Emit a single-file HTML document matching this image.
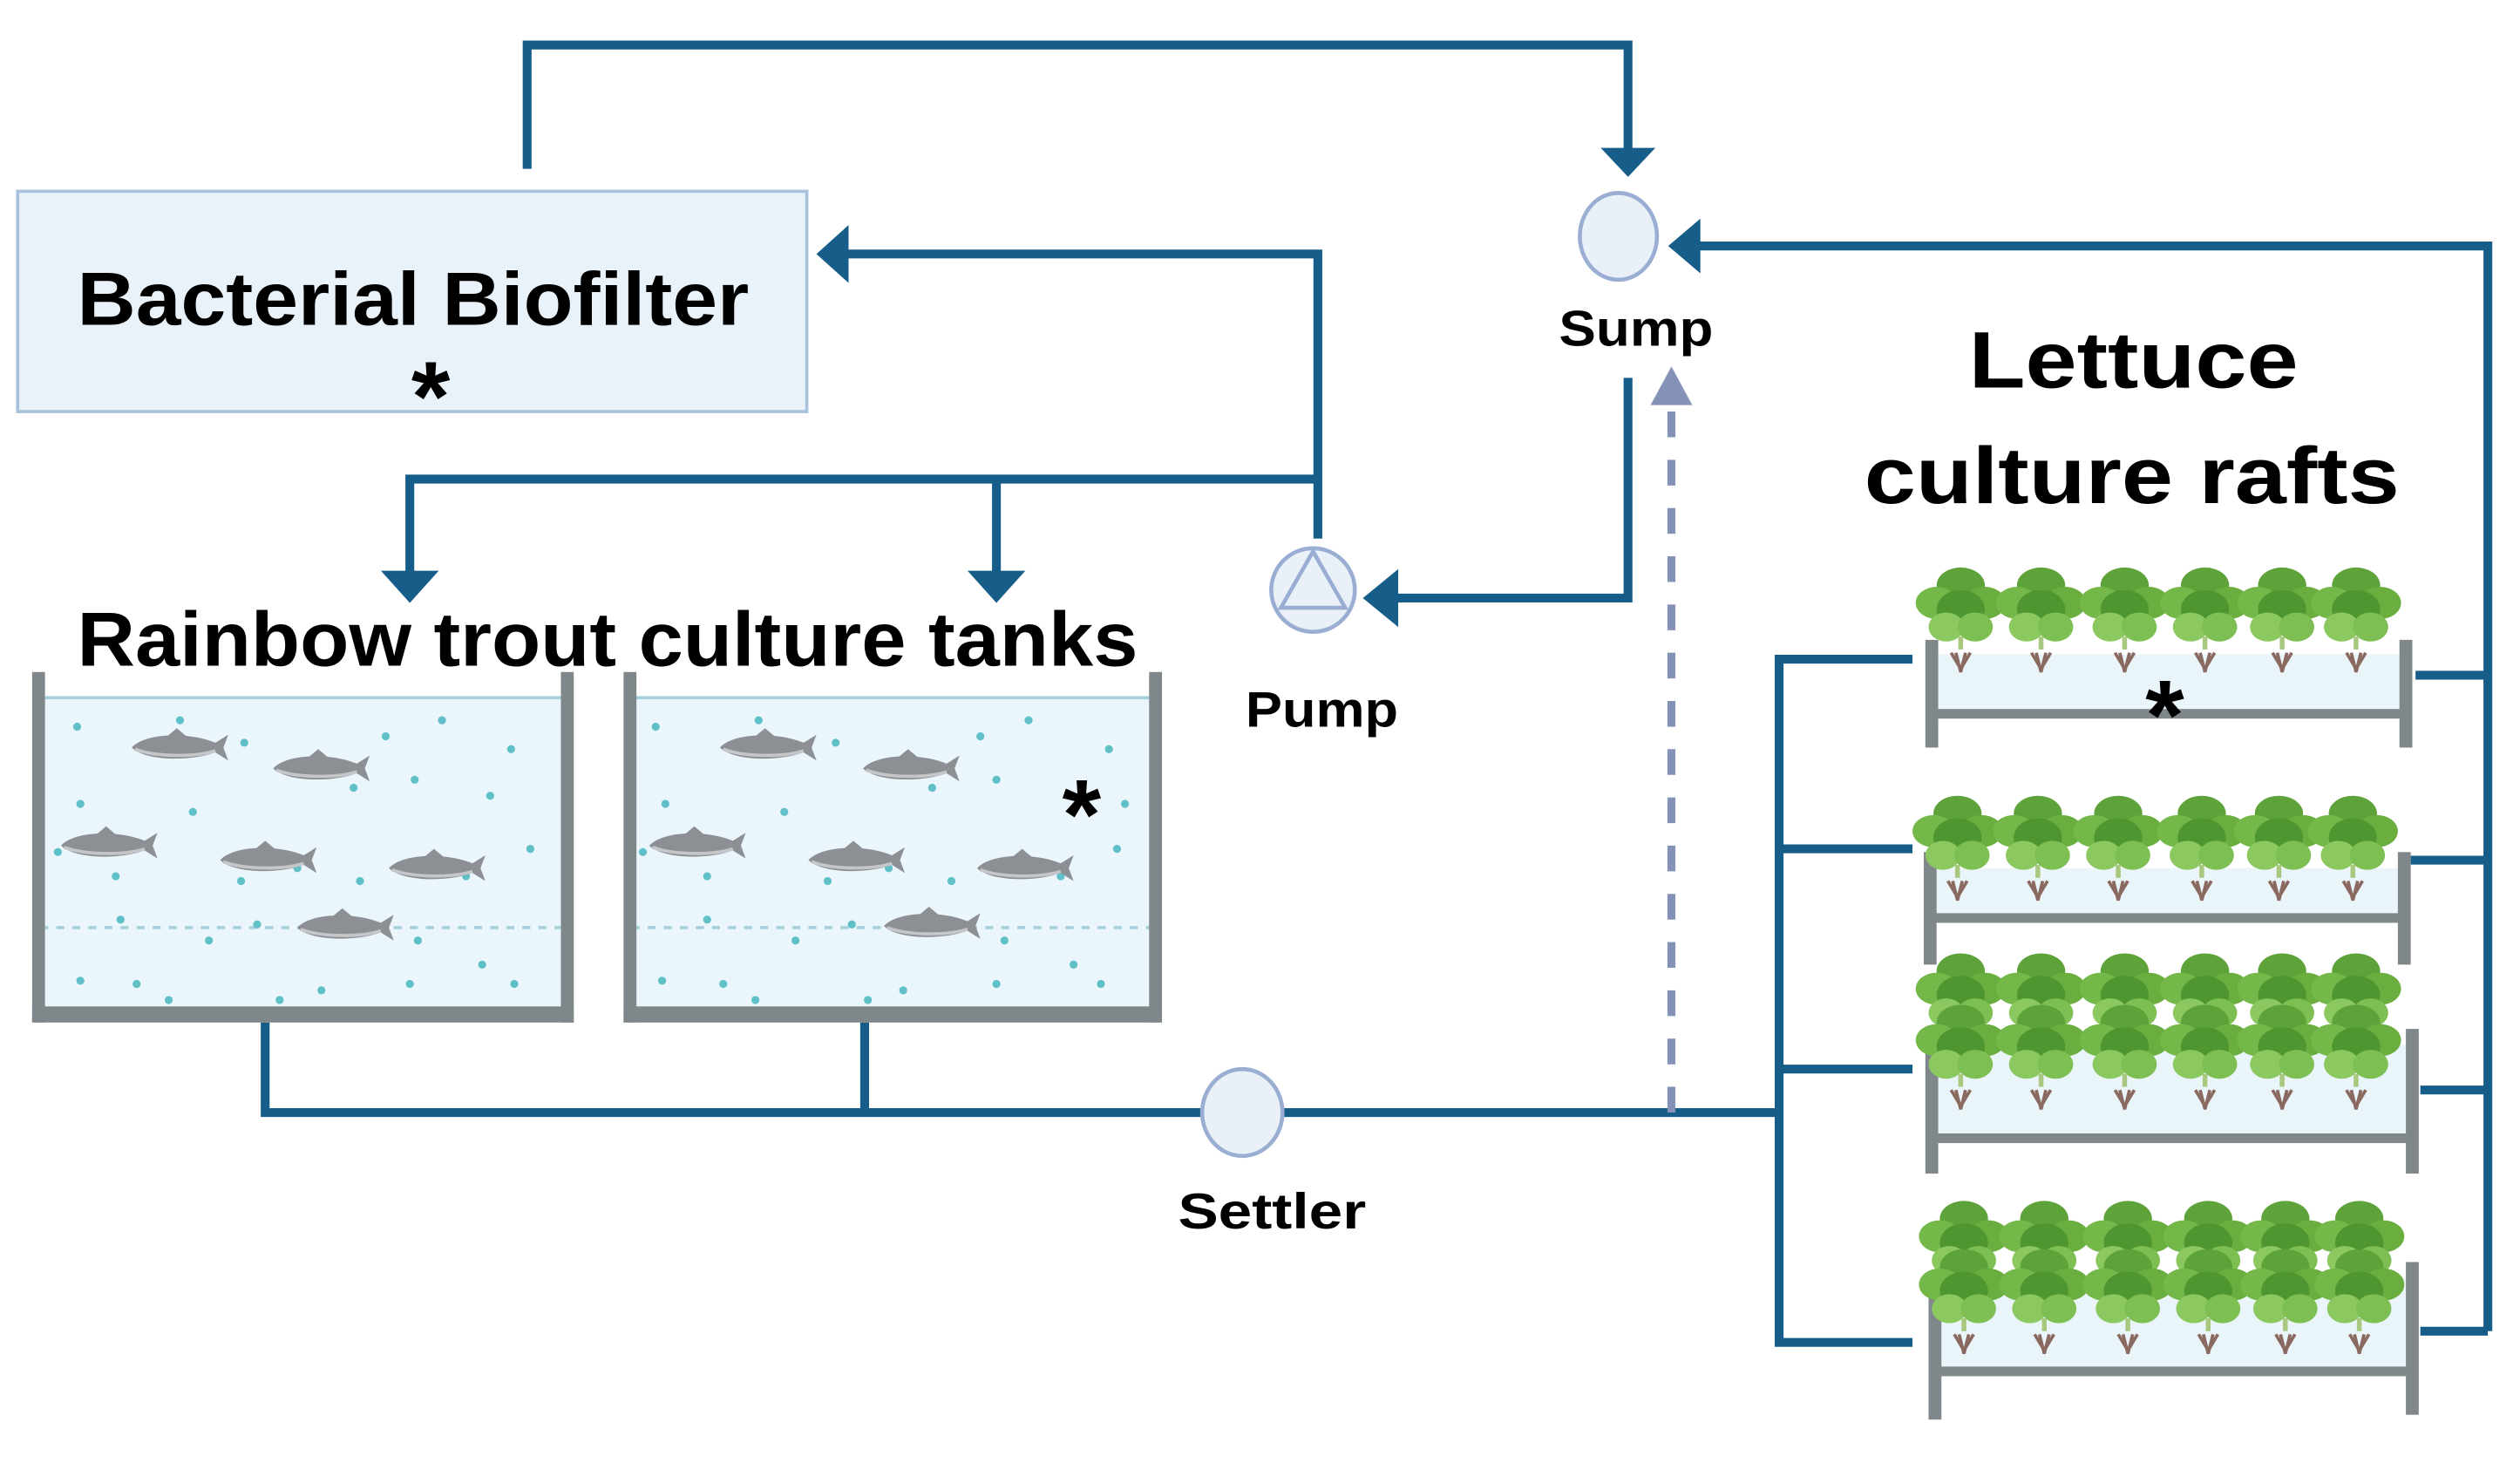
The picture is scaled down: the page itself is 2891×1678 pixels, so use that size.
<!DOCTYPE html>
<html><head><meta charset="utf-8"><style>
html,body{margin:0;padding:0;background:#fff;}
svg{display:block;}
text{font-family:"Liberation Sans",Arial,sans-serif;font-weight:bold;fill:#000;}
</style></head><body>
<svg width="2891" height="1678" viewBox="0 0 1568 910" preserveAspectRatio="none" xmlns="http://www.w3.org/2000/svg">
<defs>
<g id="fish">
<path d="M-30,0 C-22,-9 5,-10 22,-3 L30,-8 L27,0 L30,8 L22,3 C5,9 -22,8 -30,0 Z" fill="#8c8f94"/>
<path d="M-8,-7 L-2,-12 L4,-7 Z" fill="#8c8f94"/>
<path d="M-28,1 C-15,6 10,6 22,2" stroke="#c4c6c9" stroke-width="2" fill="none"/>
</g>
<g id="let">
<ellipse cx="0" cy="-24" rx="15" ry="11" fill="#5ea23a"/>
<ellipse cx="-15" cy="-13" rx="13" ry="10" fill="#74b84a"/>
<ellipse cx="15" cy="-13" rx="13" ry="10" fill="#6aae40"/>
<ellipse cx="0" cy="-9" rx="15" ry="12" fill="#4e9630"/>
<ellipse cx="-9" cy="2" rx="11" ry="9" fill="#8cc860"/>
<ellipse cx="9" cy="2" rx="11" ry="9" fill="#7dbf52"/>
<path d="M0,8 L0,16" stroke="#a8c880" stroke-width="3"/>
<path d="M-6,18 L0,28 L6,18 M-3,18 L0,30 L3,18" stroke="#8a6a60" stroke-width="2" fill="none"/>
</g>
</defs>
<g fill="none" stroke="#175d89" stroke-width="5.5">
<polyline points="328,105 328,28 1013,28 1013,95"/>
<polyline points="1548,828 1548,153 1055,153"/>
<polyline points="820,335 820,158 525,158"/>
<polyline points="820,298 255,298 255,358"/>
<line x1="620" y1="298" x2="620" y2="358"/>
<polyline points="1013,235 1013,372 868,372"/>
<polyline points="165,636 165,692 1107,692"/>
<line x1="538" y1="636" x2="538" y2="692"/>
<polyline points="1190,410 1107,410 1107,835 1190,835"/>
<line x1="1107" y1="528" x2="1190" y2="528"/>
<line x1="1107" y1="665" x2="1190" y2="665"/>
<line x1="1503" y1="420" x2="1548" y2="420"/>
<line x1="1500" y1="535" x2="1548" y2="535"/>
<line x1="1506" y1="678" x2="1548" y2="678"/>
<line x1="1506" y1="828" x2="1548" y2="828"/>
</g>
<g fill="#175d89">
<polygon points="996,92 1030,92 1013,110"/>
<polygon points="1058,136 1058,170 1038,153"/>
<polygon points="528,140 528,176 508,158"/>
<polygon points="237,355 273,355 255,375"/>
<polygon points="602,355 638,355 620,375"/>
<polygon points="870,354 870,390 848,372"/>
</g>
<line x1="1040" y1="692" x2="1040" y2="250" stroke="#8592b8" stroke-width="5" stroke-dasharray="16,14"/>
<polygon points="1027,252 1053,252 1040,228" fill="#8592b8"/>
<rect x="11" y="119" width="491" height="137" fill="#e9f1f9" stroke="#a9c2dc" stroke-width="2"/>
<text x="48" y="202" font-size="47" textLength="418" lengthAdjust="spacingAndGlyphs">Bacterial Biofilter</text>
<text x="268" y="268" font-size="62" text-anchor="middle">*</text>
<ellipse cx="1007" cy="147" rx="24" ry="27" fill="#e9f0f8" stroke="#9aaed4" stroke-width="2.5"/>
<text x="970" y="215" font-size="31" textLength="96" lengthAdjust="spacingAndGlyphs">Sump</text>
<circle cx="817" cy="367" r="26" fill="#e9f0f8" stroke="#9aaed4" stroke-width="2.5"/>
<polygon points="817,343 837,378 797,378" fill="none" stroke="#9aaed4" stroke-width="2.5"/>
<text x="775" y="452" font-size="31" textLength="95" lengthAdjust="spacingAndGlyphs">Pump</text>
<ellipse cx="773" cy="692" rx="25" ry="27" fill="#e9f0f8" stroke="#9aaed4" stroke-width="2.5"/>
<text x="733" y="764" font-size="31" textLength="117" lengthAdjust="spacingAndGlyphs">Settler</text>
<text x="48" y="414" font-size="48" textLength="660" lengthAdjust="spacingAndGlyphs">Rainbow trout culture tanks</text>
<text x="1225" y="241" font-size="50" textLength="205" lengthAdjust="spacingAndGlyphs">Lettuce</text>
<text x="1160" y="313" font-size="50" textLength="333" lengthAdjust="spacingAndGlyphs">culture rafts</text>
<!-- tanks -->
<g>
<rect x="25" y="434" width="328" height="194" fill="#eaf6fb"/>
<line x1="25" y1="434" x2="353" y2="434" stroke="#a6d0dc" stroke-width="2"/>
<line x1="25" y1="577" x2="353" y2="577" stroke="#a8d0dc" stroke-width="2" stroke-dasharray="5,5"/>
<rect x="20" y="418" width="8" height="218" fill="#80878b"/>
<rect x="349" y="418" width="8" height="218" fill="#80878b"/>
<rect x="20" y="626" width="337" height="10" fill="#80878b"/>
<rect x="393" y="434" width="326" height="194" fill="#eaf6fb"/>
<line x1="393" y1="434" x2="719" y2="434" stroke="#a6d0dc" stroke-width="2"/>
<line x1="393" y1="577" x2="719" y2="577" stroke="#a8d0dc" stroke-width="2" stroke-dasharray="5,5"/>
<rect x="388" y="418" width="8" height="218" fill="#80878b"/>
<rect x="715" y="418" width="8" height="218" fill="#80878b"/>
<rect x="388" y="626" width="335" height="10" fill="#80878b"/>
</g>
<g fill="#5fc0c8">
<circle cx="48" cy="452" r="2.5"/><circle cx="112" cy="448" r="2.5"/><circle cx="152" cy="462" r="2.5"/><circle cx="200" cy="475" r="2.5"/><circle cx="240" cy="458" r="2.5"/><circle cx="275" cy="448" r="2.5"/><circle cx="318" cy="466" r="2.5"/><circle cx="50" cy="500" r="2.5"/><circle cx="120" cy="505" r="2.5"/><circle cx="220" cy="490" r="2.5"/><circle cx="258" cy="485" r="2.5"/><circle cx="305" cy="495" r="2.5"/><circle cx="36" cy="530" r="2.5"/><circle cx="72" cy="545" r="2.5"/><circle cx="150" cy="548" r="2.5"/><circle cx="185" cy="540" r="2.5"/><circle cx="224" cy="548" r="2.5"/><circle cx="290" cy="545" r="2.5"/><circle cx="330" cy="528" r="2.5"/><circle cx="75" cy="572" r="2.5"/><circle cx="130" cy="585" r="2.5"/><circle cx="160" cy="575" r="2.5"/><circle cx="260" cy="585" r="2.5"/><circle cx="300" cy="600" r="2.5"/><circle cx="50" cy="610" r="2.5"/><circle cx="85" cy="612" r="2.5"/><circle cx="200" cy="616" r="2.5"/><circle cx="255" cy="612" r="2.5"/><circle cx="320" cy="612" r="2.5"/><circle cx="105" cy="622" r="2.5"/><circle cx="174" cy="622" r="2.5"/>
<circle cx="408" cy="452" r="2.5"/><circle cx="472" cy="448" r="2.5"/><circle cx="520" cy="462" r="2.5"/><circle cx="570" cy="475" r="2.5"/><circle cx="610" cy="458" r="2.5"/><circle cx="640" cy="448" r="2.5"/><circle cx="690" cy="466" r="2.5"/><circle cx="414" cy="500" r="2.5"/><circle cx="488" cy="505" r="2.5"/><circle cx="580" cy="490" r="2.5"/><circle cx="620" cy="485" r="2.5"/><circle cx="700" cy="500" r="2.5"/><circle cx="400" cy="530" r="2.5"/><circle cx="440" cy="545" r="2.5"/><circle cx="515" cy="548" r="2.5"/><circle cx="553" cy="540" r="2.5"/><circle cx="592" cy="548" r="2.5"/><circle cx="660" cy="545" r="2.5"/><circle cx="695" cy="528" r="2.5"/><circle cx="440" cy="572" r="2.5"/><circle cx="495" cy="585" r="2.5"/><circle cx="530" cy="575" r="2.5"/><circle cx="625" cy="585" r="2.5"/><circle cx="668" cy="600" r="2.5"/><circle cx="412" cy="610" r="2.5"/><circle cx="450" cy="612" r="2.5"/><circle cx="562" cy="616" r="2.5"/><circle cx="620" cy="612" r="2.5"/><circle cx="685" cy="612" r="2.5"/><circle cx="470" cy="622" r="2.5"/><circle cx="540" cy="622" r="2.5"/>
</g>
<use href="#fish" x="112" y="465"/><use href="#fish" x="200" y="478"/><use href="#fish" x="68" y="526"/><use href="#fish" x="167" y="535"/><use href="#fish" x="272" y="540"/><use href="#fish" x="215" y="577"/>
<use href="#fish" x="478" y="465"/><use href="#fish" x="567" y="478"/><use href="#fish" x="434" y="526"/><use href="#fish" x="533" y="535"/><use href="#fish" x="638" y="540"/><use href="#fish" x="580" y="576"/>
<text x="673" y="528" font-size="62" text-anchor="middle">*</text>
<!-- rafts -->
<g>
<rect x="1204" y="407" width="290" height="36" fill="#eaf5fa"/>
<rect x="1198" y="398" width="8" height="67" fill="#80878b"/><rect x="1493" y="398" width="8" height="67" fill="#80878b"/>
<rect x="1204" y="441" width="292" height="6" fill="#80878b"/>
<rect x="1204" y="540" width="290" height="30" fill="#eaf5fa"/>
<rect x="1197" y="530" width="8" height="70" fill="#80878b"/><rect x="1492" y="530" width="8" height="70" fill="#80878b"/>
<rect x="1204" y="568" width="292" height="6" fill="#80878b"/>
<rect x="1204" y="650" width="296" height="58" fill="#eaf5fa"/>
<rect x="1198" y="640" width="8" height="90" fill="#80878b"/><rect x="1497" y="640" width="8" height="90" fill="#80878b"/>
<rect x="1204" y="705" width="300" height="6" fill="#80878b"/>
<rect x="1206" y="795" width="296" height="55" fill="#eaf5fa"/>
<rect x="1200" y="795" width="8" height="88" fill="#80878b"/><rect x="1497" y="785" width="8" height="95" fill="#80878b"/>
<rect x="1206" y="850" width="298" height="6" fill="#80878b"/>
</g>
<g>
<use href="#let" x="1220" y="388"/><use href="#let" x="1270" y="388"/><use href="#let" x="1322" y="388"/><use href="#let" x="1372" y="388"/><use href="#let" x="1420" y="388"/><use href="#let" x="1466" y="388"/>
<use href="#let" x="1218" y="530"/><use href="#let" x="1268" y="530"/><use href="#let" x="1318" y="530"/><use href="#let" x="1370" y="530"/><use href="#let" x="1418" y="530"/><use href="#let" x="1464" y="530"/>
<use href="#let" x="1220" y="628"/><use href="#let" x="1270" y="628"/><use href="#let" x="1322" y="628"/><use href="#let" x="1372" y="628"/><use href="#let" x="1420" y="628"/><use href="#let" x="1466" y="628"/>
<use href="#let" x="1220" y="660"/><use href="#let" x="1270" y="660"/><use href="#let" x="1322" y="660"/><use href="#let" x="1372" y="660"/><use href="#let" x="1420" y="660"/><use href="#let" x="1466" y="660"/>
<use href="#let" x="1222" y="782"/><use href="#let" x="1272" y="782"/><use href="#let" x="1324" y="782"/><use href="#let" x="1374" y="782"/><use href="#let" x="1422" y="782"/><use href="#let" x="1468" y="782"/>
<use href="#let" x="1222" y="812"/><use href="#let" x="1272" y="812"/><use href="#let" x="1324" y="812"/><use href="#let" x="1374" y="812"/><use href="#let" x="1422" y="812"/><use href="#let" x="1468" y="812"/>
</g>
<text x="1347" y="466" font-size="62" text-anchor="middle">*</text>
</svg>
</body></html>
